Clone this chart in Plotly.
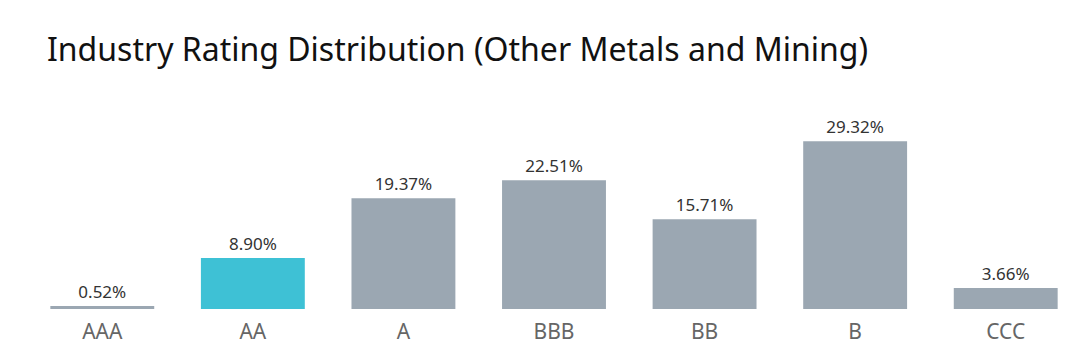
import plotly.graph_objects as go

categories = ["AAA", "AA", "A", "BBB", "BB", "B", "CCC"]
values = [0.52, 8.90, 19.37, 22.51, 15.71, 29.32, 3.66]
labels = ["0.52%", "8.90%", "19.37%", "22.51%", "15.71%", "29.32%", "3.66%"]
highlight = "AA"

colors = ["#3EC1D5" if c == highlight else "#9BA7B2" for c in categories]

fig = go.Figure(go.Bar(
    x=categories, y=values, text=labels, textposition="outside",
    marker=dict(color=colors, line=dict(width=0)),
    textfont=dict(family="Noto Sans", size=17, color="#333333"),
    cliponaxis=False, width=0.69,
))

fig.update_layout(
    width=1080, height=360,
    paper_bgcolor="white", plot_bgcolor="white",
    margin=dict(l=19, r=7, t=118, b=59),
    title=dict(text="Industry Rating Distribution (Other Metals and Mining)",
               x=0, xref="paper", xanchor="left", y=0.883, yref="container", yanchor="middle",
               font=dict(family="Noto Sans", size=32, color="#111111"), pad=dict(l=20)),
    xaxis=dict(showgrid=False, showline=False, zeroline=False, ticks="",
               tickfont=dict(family="Noto Sans", size=21, color="#666666"), range=[-0.5, 6.5],
               ticklabelstandoff=8),
    yaxis=dict(visible=False, range=[0, 32]),
    showlegend=False,
)

fig.write_html("out.html")
